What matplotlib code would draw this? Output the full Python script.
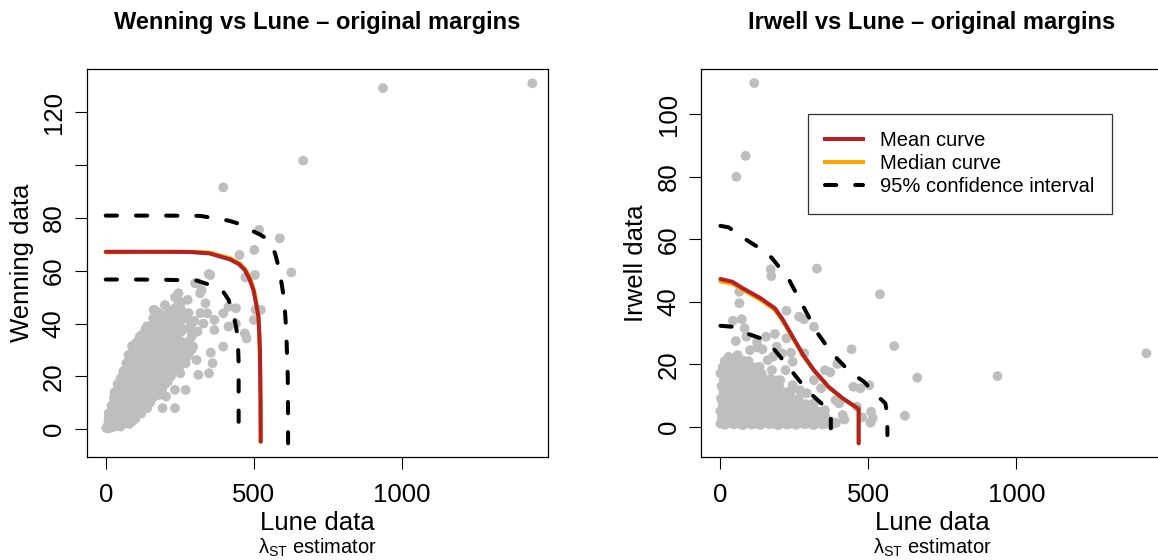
import matplotlib
matplotlib.use("Agg")
import matplotlib.pyplot as plt
from matplotlib.lines import Line2D

plt.rcParams['font.family'] = ['Liberation Sans', 'DejaVu Sans']
plt.rcParams['mathtext.fontset'] = 'custom'
plt.rcParams['mathtext.rm'] = 'Liberation Sans'
plt.rcParams['mathtext.it'] = 'Liberation Sans:italic'

# ---------------- data: left panel (Wenning vs Lune) ----------------
left_pts = [
    (2,0.5),(5,1),(8,0.3),(12,2),(15,0.5),(18,3),(22,1),(25,4),(28,2),(30,6),(35,3),(38,8),(40,1.5),(42,5),
    (45,10),(48,7),(50,3),(52,12),(55,9),(58,5),(60,14),(62,11),(65,7),(68,16),(70,3),(72,13),(75,9),(78,18),
    (80,5),(82,15),(85,11),(88,20),(90,7),(92,17),(95,13),(98,22),(100,9),(102,19),(105,15),(108,24),(110,11),
    (112,21),(115,17),(118,26),(120,8),(122,13),(125,23),(128,19),(130,28),(132,15),(135,25),(138,10),(140,21),
    (142,30),(145,17),(148,27),(150,12),(152,23),(155,32),(158,19),(160,29),(162,14),(165,25),(168,34),(170,21),
    (172,31),(175,16),(178,27),(180,36),(182,23),(185,33),(188,18),(190,29),(192,38),(195,25),(198,35),(200,20),
    (205,31),(208,40),(210,27),(215,37),(218,22),(220,33),(225,29),(228,39),(230,24),(235,35),(240,31),(245,41),
    (250,27),(255,37),(260,33),(265,43),(270,30),(280,38),(290,35),(300,41),(310,37),(320,44),(330,40),(20,5),
    (32,10),(45,15),(10,4),(28,12),(55,20),(65,22),(78,25),(85,27),(95,30),(105,33),(115,35),(125,36),(135,38),
    (60,2),(75,4),(90,3),(105,6),(40,12),(70,20),(80,10),(100,25),(110,28),(130,31),(145,34),(160,37),(175,40),
    (190,42),(150,20),(170,27),(185,30),(200,34),(215,30),(230,34),(245,36),(260,38),(275,42),(100,30),(120,32),
    (140,36),(160,40),(180,44),(215,45),(235,46),(255,48),(200,47),
    # extra core fill
    (10,1),(10,3),(10,6),(20,2),(20,4),(20,7),(20,9),(30,1),(30,3),(30,5),(30,8),(30,11),(30,14),
    (40,3),(40,7),(40,9),(40,13),(40,17),(50,1),(50,5),(50,7),(50,10),(50,14),(50,16),(50,19),
    (60,4),(60,8),(60,12),(60,17),(60,19),(60,22),(70,6),(70,9),(70,11),(70,15),(70,18),(70,22),(70,25),
    (80,2),(80,7),(80,13),(80,17),(80,20),(80,23),(80,28),(90,5),(90,10),(90,12),(90,15),(90,19),(90,22),
    (90,25),(90,28),(100,4),(100,12),(100,14),(100,17),(100,21),(100,23),(100,27),(100,32),
    (110,7),(110,9),(110,14),(110,19),(110,23),(110,25),(110,30),(110,33),
    (120,6),(120,11),(120,16),(120,18),(120,21),(120,24),(120,27),(120,30),(120,35),
    (130,9),(130,13),(130,18),(130,21),(130,24),(130,26),(130,33),(130,36),
    (140,8),(140,12),(140,15),(140,18),(140,24),(140,27),(140,33),(140,39),
    (150,10),(150,15),(150,17),(150,25),(150,28),(150,30),(150,35),(150,38),
    (160,12),(160,17),(160,22),(160,24),(160,27),(160,32),(160,34),(160,42),
    (170,14),(170,18),(170,24),(170,29),(170,33),(170,36),(170,38),
    (180,13),(180,20),(180,25),(180,30),(180,33),(180,39),(180,41),
    (190,15),(190,22),(190,26),(190,33),(190,35),(190,40),(200,17),(200,23),(200,28),(200,31),(200,37),(200,43),
    (210,18),(210,24),(210,30),(210,35),(210,42),(220,20),(220,26),(220,31),(220,36),(220,41),
    (230,28),(230,32),(230,38),(230,42),(240,22),(240,28),(240,38),(240,44),(250,24),(250,33),(250,40),
    (260,26),(260,30),(260,42),(280,28),(280,33),(280,44),(290,30),(290,40),
    # scattered
    (82,28.1),(89,31.5),(77,28.1),(162,45.2),(167,45),(234,50),(245,48.9),(256,45),(302,55.3),(324,52.7),
    (348,58.8),(310,55.3),(246,51.5),(277,49),(319,51.5),(337,47.7),(343,43.9),(367,41.4),(397,43.9),(415,46.4),
    (440,40),(415,38.9),(397,31.3),(367,37.6),(470,36.3),(476,34.4),(500,41.4),(524,45.2),(506,45.2),(440,45.8),
    (355,29),(361,25),(349,21.2),(313,20.6),(270,25),(270,14.9),(234,14.9),(204,12.4),(234,8),(192,8),(252,21.2),
    (307,26.2),(295,31.3),(295,36.3),(246,38.9),(222,43.9),(198,40.1),
    (397,91.6),(667,101.7),(937,129.2),(1441,131),(518,75.5),(588,72.3),(502,67.9),(452,66),(627,59.4),
    (504,58.4),(472,57.5),(353,58.4),
]
left_x = [p[0] for p in left_pts]
left_y = [p[1] for p in left_pts]

left_mean_x = [0, 100, 200, 285, 350, 420, 450, 470, 485, 499, 508, 516, 519, 521, 522, 523, 523.5, 523.5]
left_mean_y = [67.2, 67.2, 67.2, 67.1, 66.6, 64.3, 62.5, 60.3, 57, 52.7, 47.5, 42.6, 36, 30, 20, 10, 0, -4.7]
left_med_x = [0, 285, 350, 420, 455, 475, 490, 502, 511, 517, 520, 522, 523, 523.5]
left_med_y = [67.0, 67.2, 66.9, 64.8, 62.6, 60, 56.5, 52, 46.5, 40, 30, 20, 10, -4.7]
left_lo_x = [0, 100, 200, 307, 343, 380, 397, 415, 434, 446, 449, 449, 449]
left_lo_y = [56.7, 56.7, 56.6, 56.3, 55, 53.5, 52.1, 49, 42.6, 35, 25, 10, 1]
left_hi_x = [0, 200, 319, 415, 460, 488, 520, 542, 560, 572, 585, 594, 603, 609, 612, 615, 616, 616]
left_hi_y = [80.9, 80.9, 80.8, 79, 77.5, 75.5, 73.8, 72.3, 69.5, 66.6, 61, 55.3, 49, 39, 30, 20, 5, -5.3]

# ---------------- data: right panel (Irwell vs Lune) ----------------
right_pts = [
    # dense block
    (0,1),(15,0.6),(30,1.2),(45,0.8),(60,1),(75,0.5),(90,1.1),(105,0.7),(120,1),(135,0.6),(150,1.2),(165,0.8),
    (180,1),(195,0.5),(210,1.1),(225,0.7),(240,1),(255,0.6),(270,1.2),(285,0.8),(300,1),(315,0.5),(330,1.1),
    (345,0.7),(360,1),(375,0.6),(390,1.2),
    (5,3),(22,3.3),(40,2.8),(58,3.1),(75,3.4),(92,2.7),(110,3),(128,3.2),(145,2.9),(162,3.3),(180,2.8),(198,3.1),
    (215,3),(232,3.4),(250,2.7),(268,3),(285,3.2),(302,2.9),(320,3.1),(338,2.8),(355,3.2),
    (0,5),(18,5.3),(35,4.8),(52,5.1),(70,5.4),(88,4.7),(105,5),(122,5.2),(140,4.9),(158,5.3),(175,4.8),(192,5.1),
    (210,5),(228,5.4),(245,4.7),(262,5),(280,5.2),(298,4.9),(315,5.1),(332,4.8),
    (8,7),(25,7.3),(42,6.8),(60,7.1),(78,7.4),(95,6.7),(112,7),(130,7.2),(148,6.9),(165,7.3),(182,6.8),(200,7.1),
    (218,7),(235,7.4),(252,6.7),(270,7),(288,7.2),(305,6.9),
    (2,9),(20,9.3),(38,8.8),(55,9.1),(72,9.4),(90,8.7),(108,9),(125,9.2),(142,8.9),(160,9.3),(178,8.8),(195,9.1),
    (212,9),(230,9.4),(248,8.7),(265,9),
    (10,11),(28,11.3),(45,10.8),(62,11.1),(80,11.4),(98,10.7),(115,11),(132,11.2),(150,10.9),(168,11.3),(185,10.8),
    (202,11.1),(220,11),(238,11.4),
    (4,13),(22,13.3),(40,12.8),(58,13.1),(75,13.4),(92,12.7),(110,13),(128,13.2),(145,12.9),(162,13.3),(180,12.8),
    (198,13.1),
    (12,15),(30,15.3),(48,14.8),(65,15.1),(82,15.4),(100,14.7),(118,15),(135,15.2),(152,14.9),(170,15.3),(188,14.8),
    (0,17),(18,17.3),(35,16.8),(52,17.1),(70,17.4),(88,16.7),(105,17),(122,17.2),(140,16.9),
    (8,19),(26,19.3),(44,18.8),(62,19.1),(80,19.4),(98,18.7),(115,19),(132,19.2),
    (15,21),(35,21.3),(55,20.8),(75,21.2),(95,21),
    # scattered
    (114,110),(85,86.7),(54,80),(326,50.6),(170,50.4),(172,48.2),(539,42.4),(64,43.2),(64,39.5),(72,34.4),
    (42,33.9),(82,31.5),(52,27.4),(88,28.8),(223,37.1),(266,35.2),(283,34.4),(316,32),(184,29.7),(154,28.8),
    (124,27.2),(223,28.3),(443,24.8),(587,25.8),(1439,23.5),(936,16.2),(665,15.7),(623,3.5),(353,18.1),
    (371,17.4),(395,20.1),(283,23.5),(244,20.8),(208,23.5),(238,23.7),(190,25.6),(178,22.4),(142,24.8),
    (316,14.9),(340,12.3),(389,8.5),(401,7.5),(449,12.8),(473,12.3),(503,13.3),(461,6.4),(509,4.8),(515,2.7),
    (507,1.3),(479,3),(419,2.3),(413,3.7),(374,1.6),(244,13.3),(268,11.7),(292,10.7),(202,14.9),(174,18.1),
    (220,18.1),(16,20.3),(28,22.4),(58,22.9),(100,24.5),(124,25.4),(160,21.3),(316,7.5),(353,5.3),
]
right_x = [p[0] for p in right_pts]
right_y = [p[1] for p in right_pts]

right_mean_x = [0, 40, 76, 136, 184, 208, 244, 280, 316, 365, 413, 467, 467]
right_mean_y = [47.3, 46.4, 44.3, 41.1, 37.9, 34.7, 28.8, 22.9, 18.1, 12.8, 9.1, 5.7, -5.3]
right_med_x = [0, 40, 76, 136, 184, 210, 246, 282, 318, 366, 413, 467, 467]
right_med_y = [46.5, 45.8, 43.8, 40.6, 37.4, 34.0, 28.2, 22.4, 17.7, 12.6, 9.0, 5.7, -5.3]
right_lo_x = [0, 40, 88, 136, 184, 220, 256, 292, 340.5, 365, 373, 373]
right_lo_y = [32.3, 32, 29.9, 28.3, 24.5, 20.3, 16, 11.7, 7.5, 5.3, 3.7, -0.5]
right_hi_x = [0, 28, 88, 160, 184, 232, 268, 292, 328.5, 376.7, 437, 485, 521, 557, 564, 564]
right_hi_y = [64.3, 63.8, 59.8, 55.5, 52.8, 47, 40.6, 36.3, 29.9, 23.5, 17.6, 14.4, 10.7, 7.5, 4, -2.7]

titles = ["Wenning vs Lune \u2013 original margins", "Irwell vs Lune \u2013 original margins"]
ylabels = ["Wenning data", "Irwell data"]
xlabel = "Lune data"
sublabel = r"$\mathrm{\lambda_{ST}}$ estimator"
legend_labels = ["Mean curve", "Median curve", "95% confidence interval"]

# ---------------- styling ----------------
W, H = 1158, 560
fig = plt.figure(figsize=(W / 100, H / 100), dpi=100)

GREY = "#BEBEBE"
RED = "#B22222"
ORANGE = "#FFA500"
LW = 2.9
dash = (0, (2.8, 4.7))
FS_AX = 18.5
FS_LEG = 14.5

def make_axes(left_px, ylim, yticks, yticklabels):
    ax = fig.add_axes([left_px / W, (H - 456.7) / H, 461.3 / W, (456.7 - 69.3) / H])
    ax.set_xlim(-64.2, 1494)
    ax.set_ylim(*ylim)
    ax.set_xticks([0, 500, 1000])
    ax.set_xticklabels(["0", "500", "1000"])
    ax.set_yticks(yticks)
    ax.set_yticklabels(yticklabels, rotation=90, va="center")
    ax.tick_params(direction="out", length=8.4, width=0.8, labelsize=FS_AX)
    ax.tick_params(axis="x", pad=10.5)
    ax.tick_params(axis="y", pad=6.6)
    for s in ax.spines.values():
        s.set_linewidth(0.9)
    return ax

panels = [
    (86.7, (-10.4, 136.3), [0, 20, 40, 60, 80, 100, 120], ["0", "20", "40", "60", "80", "", "120"],
     left_x, left_y, (left_mean_x, left_mean_y), (left_med_x, left_med_y),
     (left_lo_x, left_lo_y), (left_hi_x, left_hi_y)),
    (701.4, (-9.6, 114.4), [0, 20, 40, 60, 80, 100], ["0", "20", "40", "60", "80", "100"],
     right_x, right_y, (right_mean_x, right_mean_y), (right_med_x, right_med_y),
     (right_lo_x, right_lo_y), (right_hi_x, right_hi_y)),
]

axes = []
for i, (lp, yl, yt, ytl, px, py, mean, med, lo, hi) in enumerate(panels):
    ax = make_axes(lp, yl, yt, ytl)
    ax.scatter(px, py, s=50, c=GREY, edgecolors="none", zorder=2)
    ax.plot(*med, color=ORANGE, lw=LW, solid_capstyle="round", zorder=3)
    ax.plot(*mean, color=RED, lw=LW, solid_capstyle="round", zorder=4)
    for c in (lo, hi):
        ax.plot(*c, color="black", lw=LW, linestyle=dash, dash_capstyle="round", zorder=5)
    ax.set_title(titles[i], fontsize=17, fontweight="bold", pad=29)
    ax.set_ylabel(ylabels[i], fontsize=FS_AX, labelpad=6)
    ax.set_xlabel(xlabel, fontsize=FS_AX, labelpad=3)
    ax.text(0.5, -0.236, sublabel, transform=ax.transAxes, ha="center", va="center", fontsize=14.5)
    axes.append(ax)

ax = axes[1]
handles = [
    Line2D([0], [0], color=RED, lw=LW),
    Line2D([0], [0], color=ORANGE, lw=LW),
    Line2D([0], [0], color="black", lw=LW, linestyle=dash, dash_capstyle="round"),
]
leg = ax.legend(handles, legend_labels, loc="upper left",
                bbox_to_anchor=((808 - 701.4) / 461.3, (456.7 - 114.3) / (456.7 - 69.3)),
                fontsize=FS_LEG, frameon=True, fancybox=False, edgecolor="black",
                handlelength=1.9, handletextpad=0.85, borderpad=0.85, labelspacing=0.2,
                borderaxespad=0)
leg.get_frame().set_linewidth(0.9)

fig.savefig("out.png", dpi=100)
